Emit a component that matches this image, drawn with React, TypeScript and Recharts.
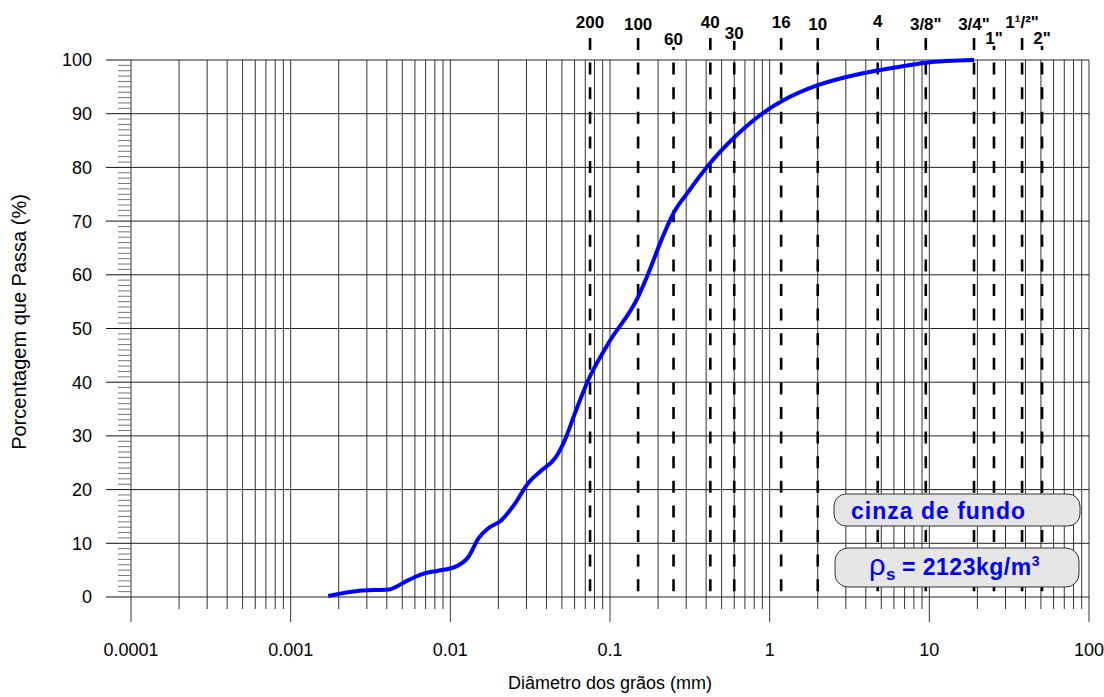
import React from "react";
import {
  CartesianGrid,
  Line,
  LineChart,
  ReferenceLine,
  XAxis,
  YAxis,
} from "recharts";

// grain size curve: diameter (mm) vs percent passing
const diameters = [
  0.00172, 0.0028, 0.0041, 0.0055, 0.0069, 0.0084, 0.0107, 0.013, 0.015,
  0.0173, 0.0209, 0.0254, 0.0307, 0.0373, 0.0452, 0.0521, 0.0603, 0.0731,
  0.0975, 0.15, 0.174, 0.21, 0.249, 0.31, 0.413, 0.606, 0.935, 1.22, 2.0,
  3.77, 6.06, 9.5, 19.05,
];
const passing = [
  0.2, 1.2, 1.4, 3.2, 4.4, 4.9, 5.6, 7.5, 10.9, 12.8, 14.3, 17.4, 21.2, 23.6,
  25.8, 29.2, 34.2, 40.4, 47.2, 55.9, 60.3, 66.5, 71.4, 75.5, 80.4, 85.7,
  90.4, 92.5, 95.3, 97.5, 98.6, 99.5, 100,
];

// sieve openings (mm) and their names
const sieveSizes = [
  0.075, 0.15, 0.25, 0.425, 0.6, 1.18, 2.0, 4.75, 9.5, 19.05, 25.4, 38.1, 50.8,
];
const sieveNames = [
  "200", "100", "60", "40", "30", "16", "10", "4",
  '3/8"', '3/4"', '1"', '1¹/²"', '2"',
];

const decades = [0.0001, 0.001, 0.01, 0.1, 1, 10, 100];
const xTickLabels = ["0.0001", "0.001", "0.01", "0.1", "1", "10", "100"];
const yMajor = [0, 10, 20, 30, 40, 50, 60, 70, 80, 90, 100];
const yTickLabels = ["0", "10", "20", "30", "40", "50", "60", "70", "80", "90", "100"];

const rows = diameters.map((d, i) => ({ d, p: passing[i] }));

// log grid: 1..9 in every decade
const xTicks = decades
  .slice(0, -1)
  .flatMap((dec) => [1, 2, 3, 4, 5, 6, 7, 8, 9].map((k) => +(k * dec).toPrecision(6)))
  .concat([100]);
const yTicks = Array.from({ length: 101 }, (_, i) => i);

// how far above the plot each sieve name sits (baseline)
const labelRise: Record<string, number> = {
  "200": 32, "100": 30, "60": 15, "40": 32, "30": 21, "16": 32, "10": 30,
  "4": 33, '3/8"': 30, '3/4"': 30, '1"': 16, '1¹/²"': 32, '2"': 16,
};

const FONT = "'Liberation Sans', Arial, sans-serif";

const XTick = (props: any) => {
  const { x, y, payload } = props;
  const lg = Math.log10(payload.value);
  const major = Math.abs(lg - Math.round(lg)) < 1e-6;
  return (
    <g>
      <line x1={x} x2={x} y1={y} y2={y + (major ? 25 : 12)} stroke="#333" />
      {major && (
        <text x={x} y={y + 59} textAnchor="middle" fontSize={18} fill="#000">
          {xTickLabels[Math.round(lg) + 4]}
        </text>
      )}
    </g>
  );
};

const YTick = (props: any) => {
  const { x, y, payload } = props;
  const v = payload.value;
  const major = v % 10 === 0;
  return (
    <g>
      <line x1={x - (major ? 25 : 13)} x2={x} y1={y} y2={y} stroke={major ? "#111" : "#777"} />
      {major && (
        <text x={x - 39} y={y} dy="0.36em" textAnchor="end" fontSize={18} fill="#000">
          {yTickLabels[v / 10]}
        </text>
      )}
    </g>
  );
};

const SieveMark = (props: any) => {
  const { x1, y1, y2, name } = props;
  const top = Math.min(y1, y2);
  const bottom = Math.max(y1, y2);
  const base = top - labelRise[name];
  return (
    <g>
      <line
        x1={x1}
        x2={x1}
        y1={top - 22}
        y2={bottom}
        stroke="#000"
        strokeWidth={2.6}
        strokeDasharray="12 12.6"
      />
      <rect x={x1 - 15} y={base - 13} width={30} height={15} fill="#fff" />
      <text x={x1} y={base} textAnchor="middle" fontSize={17} fontWeight="bold" fill="#000">
        {name}
      </text>
    </g>
  );
};

// sample description boxes, drawn over the grid
const Notes = () => (
  <svg
    width={1104}
    height={697}
    style={{ position: "absolute", left: 0, top: 0, pointerEvents: "none" }}
  >
    <rect x={834} y={494} width={246} height={32} rx={12} fill="#e6e6e6" stroke="#333" />
    <text x={851} y={519} fontSize={23} fontWeight="bold" letterSpacing={1} fill="#0000ff">
      cinza de fundo
    </text>
    <rect x={835} y={548} width={244} height={39} rx={13} fill="#e6e6e6" stroke="#333" />
    <text x={869} y={575} fontSize={23} fontWeight="bold" letterSpacing={0.5} fill="#0000ff">
      <tspan fontSize={29} fontWeight="normal">ρ</tspan>
      <tspan fontSize={17} dy={5}>s</tspan>
      <tspan dx={6} dy={-5}>= 2123kg/m</tspan>
      <tspan fontSize={14} dy={-9}>3</tspan>
    </text>
  </svg>
);

export default function App() {
  return (
    <div
      style={{
        position: "fixed",
        left: 0,
        top: 0,
        width: 1104,
        height: 697,
        background: "#fff",
        fontFamily: FONT,
      }}
    >
      <LineChart
        width={1104}
        height={697}
        data={rows}
        margin={{ top: 60, right: 15, left: 71, bottom: 70 }}
      >
        <CartesianGrid horizontal={false} stroke="#333" />
        <XAxis
          dataKey="d"
          type="number"
          scale="log"
          domain={[0.0001, 100]}
          allowDataOverflow
          ticks={xTicks}
          interval={0}
          tickSize={0}
          tickMargin={0}
          axisLine={false}
          tickLine={false}
          tick={XTick}
          height={30}
        />
        <YAxis
          type="number"
          domain={[0, 100]}
          ticks={yTicks}
          interval={0}
          tickSize={0}
          tickMargin={0}
          axisLine={false}
          tickLine={false}
          tick={YTick}
          width={60}
        />
        {yMajor.map((v) => (
          <ReferenceLine key={"h" + v} y={v} stroke="#222" />
        ))}
        {sieveSizes.map((s, i) => (
          <ReferenceLine
            key={"s" + i}
            x={s}
            shape={(p: any) => <SieveMark {...p} name={sieveNames[i]} />}
          />
        ))}
        <Line
          type="monotone"
          dataKey="p"
          stroke="#0000ff"
          strokeWidth={4}
          dot={false}
          isAnimationActive={false}
          {...({ zIndex: 700 } as any)}
        />
        <text
          x={21}
          y={322}
          transform="rotate(-90 21 322)"
          textAnchor="middle"
          dominantBaseline="middle"
          fontSize={20}
          fill="#000"
        >
          Porcentagem que Passa (%)
        </text>
        <text x={610} y={689} textAnchor="middle" fontSize={18} fill="#000">
          Diâmetro dos grãos (mm)
        </text>
      </LineChart>
      <Notes />
    </div>
  );
}
